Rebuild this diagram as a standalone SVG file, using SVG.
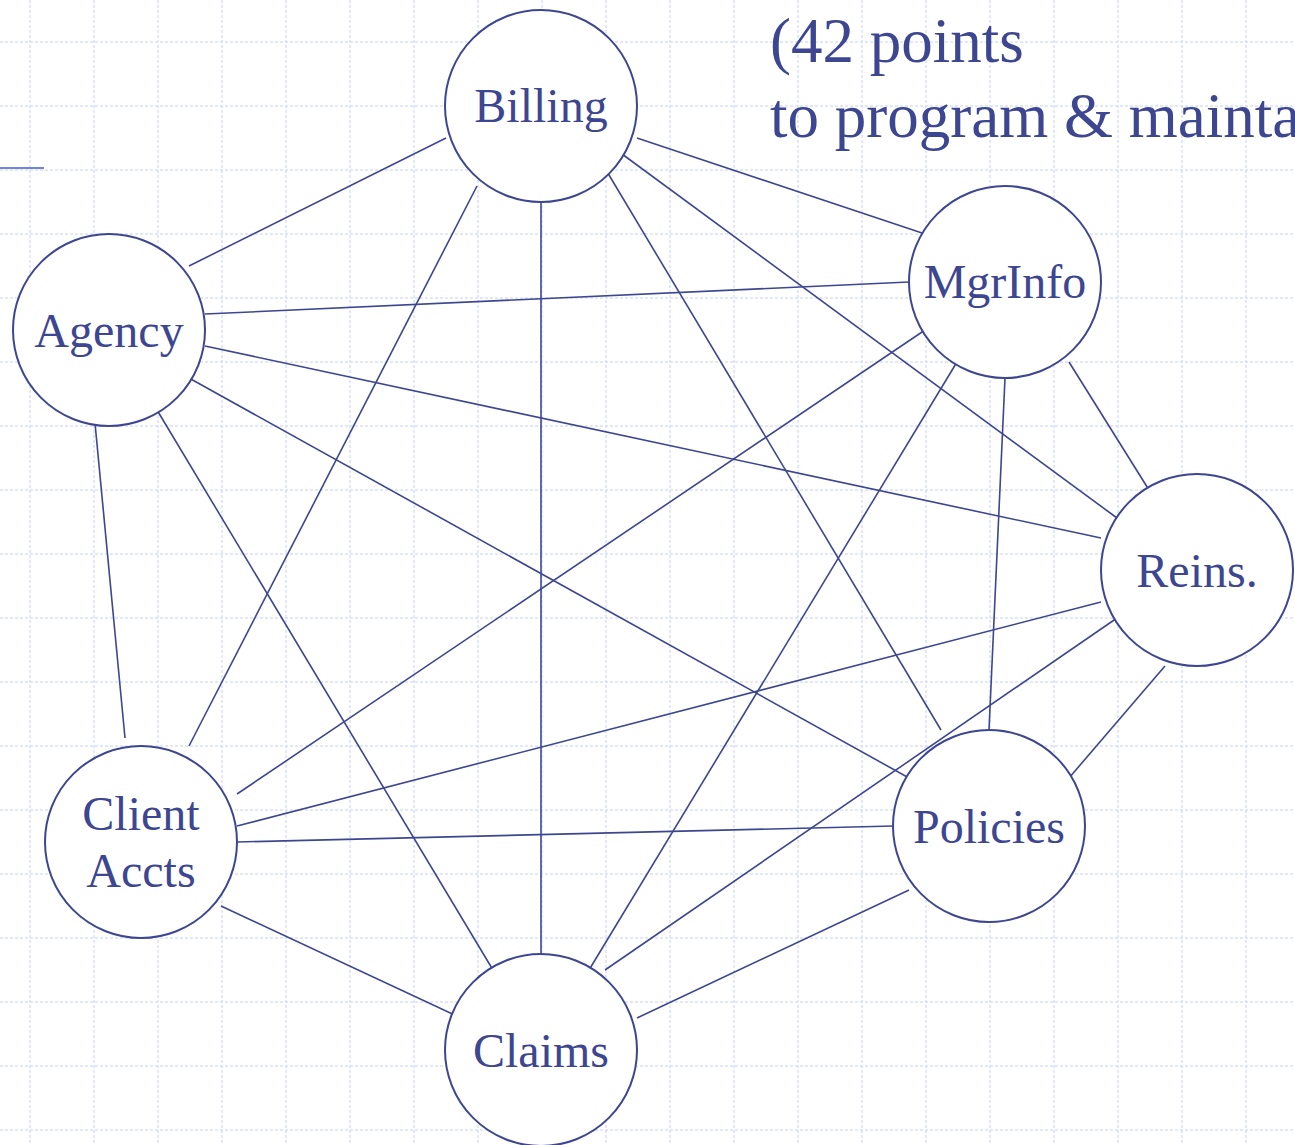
<svg xmlns="http://www.w3.org/2000/svg" width="1295" height="1145" viewBox="0 0 1295 1145">
<style>
.grid{stroke:#d8e1f9;stroke-width:1.5;stroke-dasharray:3 2;fill:none}
.node circle{fill:#fff;stroke:#3d4690;stroke-width:2}
.node text,.title{font-family:"Liberation Serif","Times New Roman",serif;fill:#3d4690}
.node text{font-size:48px;text-anchor:middle}
.title{font-size:63px}
.edges line{stroke:#3d4690;stroke-width:1.6}
</style>
<rect width="1295" height="1145" fill="#fff"/>
<path class="grid" d="M30 0V1145M94 0V1145M158 0V1145M222 0V1145M286 0V1145M350 0V1145M414 0V1145M478 0V1145M542 0V1145M606 0V1145M670 0V1145M734 0V1145M798 0V1145M862 0V1145M926 0V1145M990 0V1145M1054 0V1145M1118 0V1145M1182 0V1145M1246 0V1145M0 42H1295M0 106H1295M0 170H1295M0 234H1295M0 298H1295M0 362H1295M0 426H1295M0 490H1295M0 554H1295M0 618H1295M0 682H1295M0 746H1295M0 810H1295M0 874H1295M0 938H1295M0 1002H1295M0 1066H1295M0 1130H1295"/>
<line x1="0" y1="168" x2="44" y2="168" stroke="#6f86e0" stroke-width="2"/>
<text class="title" x="770" y="62">(42 points</text>
<text class="title" x="770" y="137">to program &amp; maintain</text>
<g class="edges">
<line x1="446" y1="138" x2="189" y2="266"/>
<line x1="477" y1="186" x2="189" y2="746"/>
<line x1="541" y1="202" x2="541" y2="954"/>
<line x1="606" y1="170" x2="941" y2="730"/>
<line x1="622" y1="154" x2="1117" y2="518"/>
<line x1="637" y1="138" x2="925" y2="234"/>
<line x1="205" y1="314" x2="909" y2="282"/>
<line x1="205" y1="346" x2="1101" y2="538"/>
<line x1="189" y1="378" x2="909" y2="778"/>
<line x1="157" y1="410" x2="493" y2="970"/>
<line x1="93" y1="402" x2="125" y2="738"/>
<line x1="925" y1="330" x2="237" y2="794"/>
<line x1="957" y1="362" x2="589" y2="970"/>
<line x1="1005" y1="378" x2="989" y2="730"/>
<line x1="1069" y1="362" x2="1149" y2="490"/>
<line x1="1101" y1="602" x2="237" y2="826"/>
<line x1="1117" y1="618" x2="605" y2="970"/>
<line x1="1165" y1="666" x2="1069" y2="778"/>
<line x1="893" y1="826" x2="237" y2="842"/>
<line x1="909" y1="890" x2="637" y2="1018"/>
<line x1="221" y1="906" x2="461" y2="1018"/>
</g>
<g id="billing" class="node"><circle cx="541" cy="106" r="96"/><text x="541" y="122">Billing</text></g>
<g id="agency" class="node"><circle cx="109" cy="330" r="96"/><text x="109" y="347">Agency</text></g>
<g id="mgrinfo" class="node"><circle cx="1005" cy="282" r="96"/><text x="1005" y="298">MgrInfo</text></g>
<g id="reins" class="node"><circle cx="1197" cy="570" r="96"/><text x="1197" y="587">Reins.</text></g>
<g id="policies" class="node"><circle cx="989" cy="826" r="96"/><text x="989" y="843">Policies</text></g>
<g id="claims" class="node"><circle cx="541" cy="1050" r="96"/><text x="541" y="1067">Claims</text></g>
<g id="clientaccts" class="node"><circle cx="141" cy="842" r="96"/><text x="141" y="830">Client</text><text x="141" y="887">Accts</text></g>
</svg>
